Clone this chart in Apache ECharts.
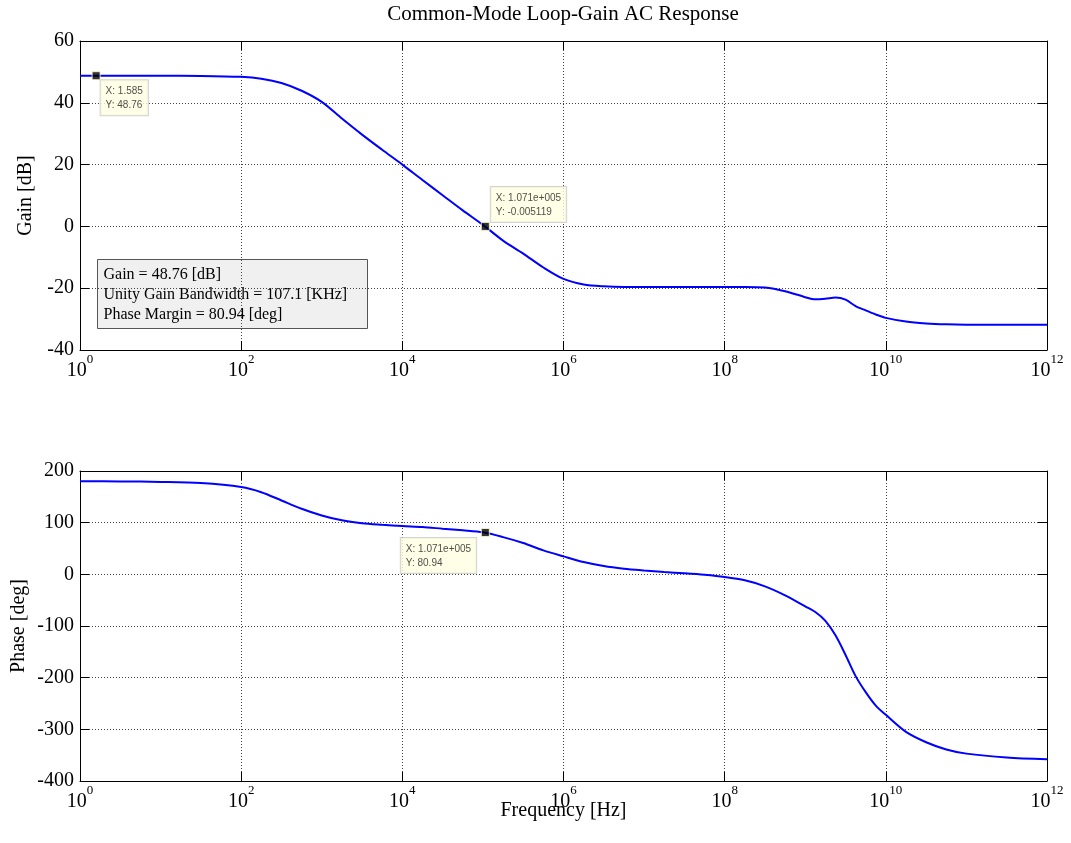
<!DOCTYPE html>
<html>
<head>
<meta charset="utf-8">
<script src="https://cdn.jsdelivr.net/npm/echarts@6/dist/echarts.min.js"></script>
<style>
  html, body { margin: 0; padding: 0; background: #fff; }
  #chart { width: 1071px; height: 843px; }
</style>
</head>
<body>
<div id="chart"></div>
<script>
// frequency as decades: 10^freqExp Hz
var freqExp = [0, 0.5, 1, 1.5, 2, 2.25, 2.5, 2.75, 3, 3.25, 3.5, 3.75, 4, 4.25, 4.5, 4.75,
  5, 5.25, 5.5, 5.75, 6, 6.25, 6.5, 6.75, 7, 7.25, 7.5, 7.75, 8, 8.25, 8.5, 8.75,
  9, 9.125, 9.25, 9.375, 9.5, 9.625, 9.75, 9.875, 10, 10.25, 10.5, 10.75, 11, 11.5, 12];

var gainDb = [48.76, 48.76, 48.75, 48.7, 48.4, 47.8, 46.4, 43.9, 40.3, 34.9, 29.7, 24.8, 20.0, 15.0, 10.1, 5.2,
  0.5, -4.6, -8.8, -13.3, -17.0, -18.8, -19.4, -19.6, -19.6, -19.6, -19.6, -19.6, -19.6, -19.6, -19.8, -21.0,
  -22.9, -23.6, -23.4, -23.0, -23.7, -25.8, -27.2, -28.5, -29.6, -30.8, -31.4, -31.7, -31.8, -31.8, -31.8];

var phaseDeg = [180, 179.8, 178.9, 176.6, 169, 159, 143, 127, 114, 104.5, 99, 96, 93.5, 91.5, 88.3, 85.2,
  81.3, 72, 60.6, 46.4, 34.8, 23.8, 16.1, 11, 7.5, 4.5, 2, -1, -5.2, -11.6, -23.2, -40.6,
  -62, -73, -90, -118, -156, -197, -228, -254, -272, -305, -325, -339, -347, -354.5, -358];

var xTicks = [0, 12, 2];          // min, max, step (decades)
var gainTicks = [-40, 60, 20];
var phaseTicks = [-400, 200, 100];

// data tips [decade, value, text]
var gainTips = [[0.2, 48.76, 'X: 1.585\nY: 48.76'], [5.0298, -0.005119, 'X: 1.071e+005\nY: -0.005119']];
var phaseTips = [[5.0298, 80.94, 'X: 1.071e+005\nY: 80.94']];

var infoLines = ['Gain = 48.76 [dB]', 'Unity Gain Bandwidth = 107.1 [KHz]', 'Phase Margin = 80.94 [deg]'];

var serif = 'Liberation Serif, Times New Roman, serif';
var sans = 'Liberation Sans, Arial, sans-serif';

function pairs(xs, ys) {
  var out = [];
  for (var i = 0; i < xs.length; i++) out.push([xs[i], ys[i]]);
  return out;
}

var dotted = { show: true, lineStyle: { color: '#444', type: [1, 2], width: 1 } };
var nameStyle = { fontSize: 20, fontFamily: serif, color: '#000' };

function xAx(grid, pos, labels) {
  return {
    type: 'value', gridIndex: grid, position: pos,
    min: xTicks[0], max: xTicks[1], interval: xTicks[2],
    axisLine: { show: true, onZero: false, lineStyle: { color: '#000', width: 1 } },
    axisTick: { show: true, inside: true, length: 9, lineStyle: { color: '#000' } },
    axisLabel: labels ? {
      show: true, margin: 3,
      formatter: function (v) { return '{b|10}{s|' + v + '}'; },
      rich: {
        b: { fontSize: 20, fontFamily: serif, color: '#000', lineHeight: 28, verticalAlign: 'bottom' },
        s: { fontSize: 13, fontFamily: serif, color: '#000', lineHeight: 13, verticalAlign: 'top' }
      }
    } : { show: false },
    splitLine: labels ? dotted : { show: false }
  };
}

function yAx(grid, pos, t, name, gap, labels) {
  return {
    type: 'value', gridIndex: grid, position: pos,
    min: t[0], max: t[1], interval: t[2],
    name: labels ? name : '', nameLocation: 'middle', nameGap: gap, nameMoveOverlap: false,
    nameTextStyle: nameStyle,
    axisLine: { show: true, onZero: false, lineStyle: { color: '#000', width: 1 } },
    axisTick: { show: true, inside: true, length: 9, lineStyle: { color: '#000' } },
    axisLabel: labels ? { show: true, margin: 6, fontSize: 20, fontFamily: serif, color: '#000' } : { show: false },
    splitLine: labels ? dotted : { show: false }
  };
}

function tipSeries(xi, yi, tips, labelPos) {
  return {
    type: 'scatter', xAxisIndex: xi, yAxisIndex: yi, z: 5,
    symbol: 'rect', symbolSize: 8,
    itemStyle: { color: '#000', borderColor: '#ffffcc', borderWidth: 1 },
    data: tips.map(function (t, i) {
      return {
        value: [t[0], t[1]],
        label: Object.assign({
          show: true, formatter: t[2], align: 'left',
          backgroundColor: '#ffffe1', borderColor: '#c8c8c8', borderWidth: 1,
          padding: [4, 5, 3, 5], fontFamily: sans, fontSize: 10, lineHeight: 14, color: '#222'
        }, labelPos[i])
      };
    })
  };
}

var chart = echarts.init(document.getElementById('chart'));
chart.setOption({
  backgroundColor: '#fff',
  animation: false,
  grid: [
    { left: 80, top: 41, width: 967, height: 309 },
    { left: 80, top: 471, width: 967, height: 310 }
  ],
  xAxis: [
    xAx(0, 'bottom', true), xAx(0, 'top', false),
    Object.assign(xAx(1, 'bottom', true), {
      name: 'Frequency [Hz]', nameLocation: 'middle', nameGap: 20, nameMoveOverlap: false,
      nameTextStyle: nameStyle
    }),
    xAx(1, 'top', false)
  ],
  yAxis: [
    yAx(0, 'left', gainTicks, 'Gain [dB]', 44, true), yAx(0, 'right', gainTicks, '', 0, false),
    yAx(1, 'left', phaseTicks, 'Phase [deg]', 51, true), yAx(1, 'right', phaseTicks, '', 0, false)
  ],
  graphic: [
    { type: 'text', x: 563, y: 14,
      style: { text: 'Common-Mode Loop-Gain AC Response', font: '21px ' + serif, fill: '#000',
        textAlign: 'center', textVerticalAlign: 'middle' } },
    { type: 'group', left: 97, top: 259,
      children: [
        { type: 'rect', shape: { x: 0, y: 0, width: 270, height: 69 },
          style: { fill: '#f0f0f0', stroke: '#555', lineWidth: 1 } },
        { type: 'text', x: 6, y: 5, style: { text: infoLines.join('\n'), font: '16px ' + serif, fill: '#000', lineHeight: 20 } }
      ] }
  ],
  series: [
    { type: 'line', xAxisIndex: 0, yAxisIndex: 0, data: pairs(freqExp, gainDb),
      showSymbol: false, smooth: 0.3,
      lineStyle: { color: '#0000ff', width: 2 } },
    { type: 'line', xAxisIndex: 2, yAxisIndex: 2, data: pairs(freqExp, phaseDeg),
      showSymbol: false, smooth: 0.3,
      lineStyle: { color: '#0000ff', width: 2 } },
    tipSeries(0, 0, gainTips, [
      { position: [9, 9], verticalAlign: 'top' },
      { position: [10, 0], verticalAlign: 'bottom' }
    ]),
    tipSeries(2, 2, phaseTips, [
      { position: [-80, 10], verticalAlign: 'top' }
    ])
  ]
});
</script>
</body>
</html>
